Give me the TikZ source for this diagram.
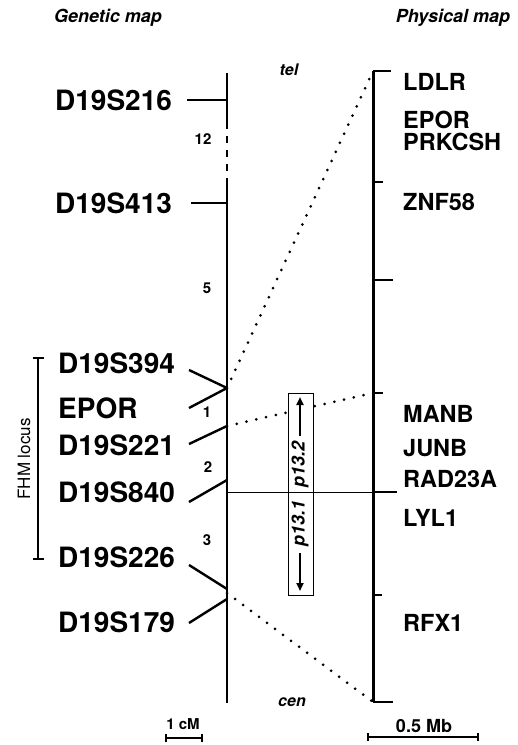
\documentclass[tikz,border=0pt]{standalone}
\usepackage{fontspec}
\setmainfont{TeX Gyre Heros}
\usetikzlibrary{arrows.meta}
\begin{document}
\begin{tikzpicture}[x=1pt,y=-1pt,
  glab/.style={font=\fontsize{28}{28}\selectfont\bfseries, anchor=west, inner sep=0pt},
  plab/.style={font=\fontsize{23.5}{23.5}\selectfont\bfseries, anchor=west, inner sep=0pt},
  num/.style={font=\fontsize{15}{15}\selectfont\bfseries, inner sep=0pt},
  ital/.style={font=\fontsize{16}{16}\selectfont\bfseries\itshape, inner sep=0pt},
  title/.style={font=\fontsize{18}{18}\selectfont\bfseries\itshape, inner sep=0pt},
  mapline/.style={line width=2.8pt},
  tickl/.style={line width=2pt},
  conn/.style={line width=2.4pt},
  dots/.style={line width=3pt, line cap=round, dash pattern=on 0pt off 10pt},
  bandtxt/.style={rotate=90, font=\fontsize{18}{18}\selectfont\bfseries\itshape, inner sep=0pt},
  bandarrow/.style={line width=2pt, -{Triangle[length=8pt,width=7pt]}}
]
\useasboundingbox (0,0) rectangle (518,745);

% titles
\node[title] (gt) at (108,18) {Genetic map};
\node[title] (pt) at (453,18) {Physical map};
\node[ital] (tel) at (289,70) {tel};
\node[ital] (cen) at (292,702) {cen};

% genetic map line
\coordinate (gtop) at (227,73);
\coordinate (gd1) at (227,122);
\coordinate (gd2) at (227,183);
\coordinate (gbot) at (227,703);
\draw[mapline] (gtop) -- (gd1);
\draw[mapline, dash pattern=on 7pt off 7pt] (gd1) -- (gd2);
\draw[mapline] (gd2) -- (gbot);

% junctions on genetic map
\coordinate (g216) at (227,100);
\coordinate (g413) at (227,203);
\coordinate (j1) at (227,388);
\coordinate (j2) at (227,426);
\coordinate (j3) at (227,480);
\coordinate (j4) at (227,589);
\coordinate (j5) at (227,599);
\coordinate (j45) at (227,593);
\coordinate (g492) at (227,492);

% genetic labels
\node[glab] (l216) at (55,100) {D19S216};
\node[glab] (l413) at (55,203) {D19S413};
\node[glab] (l394) at (58,363) {D19S394};
\node[glab] (lepor) at (58,408) {EPOR};
\node[glab] (l221) at (58,445) {D19S221};
\node[glab] (l840) at (58,492) {D19S840};
\node[glab] (l226) at (58,557) {D19S226};
\node[glab] (l179) at (58,622) {D19S179};

\coordinate (s216) at (187,100);
\coordinate (s413) at (191,203);
\coordinate (s394) at (189,370);
\coordinate (sepor) at (189,408);
\coordinate (s221) at (189,444);
\coordinate (s840) at (189,502);
\coordinate (s226) at (189,565);
\coordinate (s179) at (189,623);

\draw[tickl] (s216) -- (g216);
\draw[tickl] (s413) -- (g413);
\draw[conn] (s394) -- (j1);
\draw[conn] (sepor) -- (j1);
\draw[conn] (s221) -- (j2);
\draw[conn] (s840) -- (j3);
\draw[conn] (s226) -- (j4);
\draw[conn] (s179) -- (j5);

% interval numbers
\node[num] (n12) at (203,139) {12};
\node[num] (n5) at (207,288) {5};
\node[num] (n1) at (207,412) {1};
\node[num] (n2) at (208,467) {2};
\node[num] (n3) at (207,540) {3};

% FHM locus
\coordinate (fa) at (38,357);
\coordinate (fb) at (38,560);
\draw[line width=1.8pt, {Bar[width=11pt]}-{Bar[width=11pt]}] (fa) -- (fb);
\node[rotate=90, font=\fontsize{17}{17}\selectfont, inner sep=0pt] (fhm) at (24,459) {FHM locus};

% physical map
\coordinate (ptop) at (373,71);
\coordinate (pbot) at (373,702);
\coordinate (p182) at (373,182);
\coordinate (p280) at (373,280);
\coordinate (p393) at (373,393);
\coordinate (p492) at (373,492);
\coordinate (p595) at (373,595);
\draw[line width=3pt] (ptop) -- (pbot);
\draw[tickl] (ptop) -- ++(18,0);
\draw[tickl] (p182) -- ++(10,0);
\draw[tickl] (p280) -- ++(20,0);
\draw[tickl] (p393) -- ++(10,0);
\draw[line width=2.6pt] (p492) -- ++(24,0);
\draw[tickl] (p595) -- ++(9,0);
\draw[tickl] (pbot) -- ++(20,0);

\node[plab] (ldlr) at (403,82) {LDLR};
\node[plab] (epor2) at (403,120) {EPOR};
\node[plab] (prk) at (403,142) {PRKCSH};
\node[plab] (znf) at (403,202) {ZNF58};
\node[plab] (manb) at (403,414) {MANB};
\node[plab] (junb) at (403,448) {JUNB};
\node[plab] (rad) at (403,479) {RAD23A};
\node[plab] (lyl) at (403,518) {LYL1};
\node[plab] (rfx) at (403,623) {RFX1};

% dotted correspondences
\draw[dots] (j1) -- (ptop);
\draw[dots] (j2) -- (p393);
\draw[dots] (j45) -- (pbot);

% band box
\node[draw, line width=1pt, fill=white, minimum width=25pt, minimum height=202pt, inner sep=0pt] (band) at (300.5,494) {};
\draw[line width=0.8pt] (g492) -- (p492);
\node[bandtxt] (b132) at (300,464) {p13.2};
\node[bandtxt] (b131) at (300,523) {p13.1};
\coordinate (a1s) at (300,436);
\coordinate (a1e) at (300,397);
\coordinate (a2s) at (300,553);
\coordinate (a2e) at (300,591);
\draw[bandarrow] (a1s) -- (a1e);
\draw[bandarrow] (a2s) -- (a2e);

% scale bars
\node[num] (cm) at (183,724) {1 cM};
\coordinate (c1) at (165,738);
\coordinate (c2) at (203,738);
\draw[line width=2pt, {Bar[width=8pt]}-{Bar[width=8pt]}] (c1) -- (c2);
\node[font=\fontsize{18}{18}\selectfont\bfseries, inner sep=0pt] (mb) at (424,726) {0.5 Mb};
\coordinate (m1) at (367,737);
\coordinate (m2) at (479,737);
\draw[line width=2pt, {Bar[width=8pt]}-{Bar[width=8pt]}] (m1) -- (m2);
\end{tikzpicture}
\end{document}
